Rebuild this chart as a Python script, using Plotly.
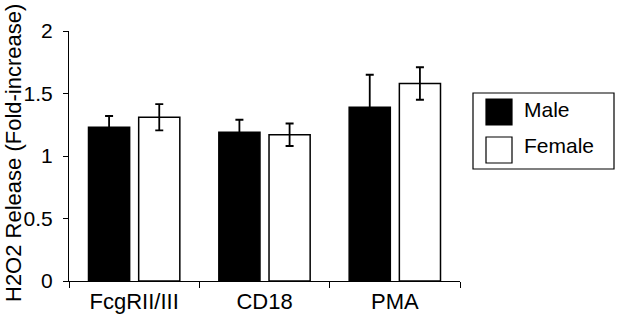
import plotly.graph_objects as go

categories = ["FcgRII/III", "CD18", "PMA"]
male_values = [1.23, 1.19, 1.39]
male_errors = [0.09, 0.10, 0.26]
female_values = [1.31, 1.17, 1.58]
female_errors = [0.105, 0.09, 0.13]
series_names = ["Male", "Female"]
y_ticks = [0, 0.5, 1, 1.5, 2]
y_tick_labels = ["0", "0.5", "1", "1.5", "2"]
y_title = "H2O2 Release (Fold-increase)"

FONT = "Liberation Sans, Arial, Helvetica, sans-serif"
FS = 21
FS_X = 22

W, H = 617, 316
L, R, T, B = 69, 460, 31, 281

def px_x(p):
    return (p - L) / (R - L)
def px_y(p):
    return (B - p) / (B - T)

fig = go.Figure()
fig.add_trace(go.Bar(
    x=categories, y=male_values, name=series_names[0],
    marker=dict(color="black", line=dict(color="black", width=1.5)),
    error_y=dict(type="data", array=male_errors, visible=True,
                 color="black", thickness=1.8, width=4),
    showlegend=False,
))
fig.add_trace(go.Bar(
    x=categories, y=female_values, name=series_names[1],
    marker=dict(color="white", line=dict(color="black", width=1.5)),
    error_y=dict(type="data", array=female_errors, visible=True,
                 color="black", thickness=1.8, width=4),
    showlegend=False,
))

shapes = [
    dict(type="rect", xref="paper", yref="paper",
         x0=px_x(473), x1=px_x(614), y0=px_y(169), y1=px_y(93),
         line=dict(color="black", width=1.2), fillcolor="white"),
    dict(type="rect", xref="paper", yref="paper",
         x0=px_x(486), x1=px_x(512), y0=px_y(125), y1=px_y(99),
         line=dict(color="black", width=1.2), fillcolor="black"),
    dict(type="rect", xref="paper", yref="paper",
         x0=px_x(486), x1=px_x(512), y0=px_y(163), y1=px_y(137),
         line=dict(color="black", width=1.2), fillcolor="white"),
]
annotations = [
    dict(text=series_names[0], xref="paper", yref="paper", x=px_x(522), y=px_y(109),
         xanchor="left", yanchor="middle", showarrow=False,
         font=dict(family=FONT, size=FS, color="black")),
    dict(text=series_names[1], xref="paper", yref="paper", x=px_x(522), y=px_y(145),
         xanchor="left", yanchor="middle", showarrow=False,
         font=dict(family=FONT, size=FS, color="black")),
    dict(text=y_title, xref="paper", yref="paper", x=px_x(13), y=px_y(153),
         xanchor="center", yanchor="middle", textangle=-90, showarrow=False,
         font=dict(family=FONT, size=FS_X, color="black")),
]

fig.update_layout(
    width=W, height=H,
    margin=dict(l=L, r=W - R, t=T, b=H - B, pad=0, autoexpand=False),
    paper_bgcolor="white", plot_bgcolor="white",
    barmode="group", bargap=0.23, bargroupgap=0.18,
    font=dict(family=FONT, size=FS, color="black"),
    shapes=shapes, annotations=annotations,
    showlegend=False,
    xaxis=dict(
        automargin=False,
        showline=True, linecolor="black", linewidth=1.2,
        ticks="outside", tickson="boundaries", ticklen=6, tickcolor="black",
        tickwidth=1.2, showgrid=False, zeroline=False,
        tickfont=dict(family=FONT, size=FS_X, color="black"),
    ),
    yaxis=dict(
        automargin=False,
        range=[0, 2], tickvals=y_ticks, ticktext=y_tick_labels,
        showline=True, linecolor="black", linewidth=1.2,
        ticks="outside", ticklen=5, tickcolor="black", tickwidth=1.2,
        ticklabelstandoff=6,
        showgrid=False, zeroline=False,
        tickfont=dict(family=FONT, size=FS, color="black"),
    ),
)

fig.write_html(
    "out.html",
    config={"displayModeBar": False},
    post_script="document.body.style.margin='0';document.body.style.overflow='hidden';",
)
